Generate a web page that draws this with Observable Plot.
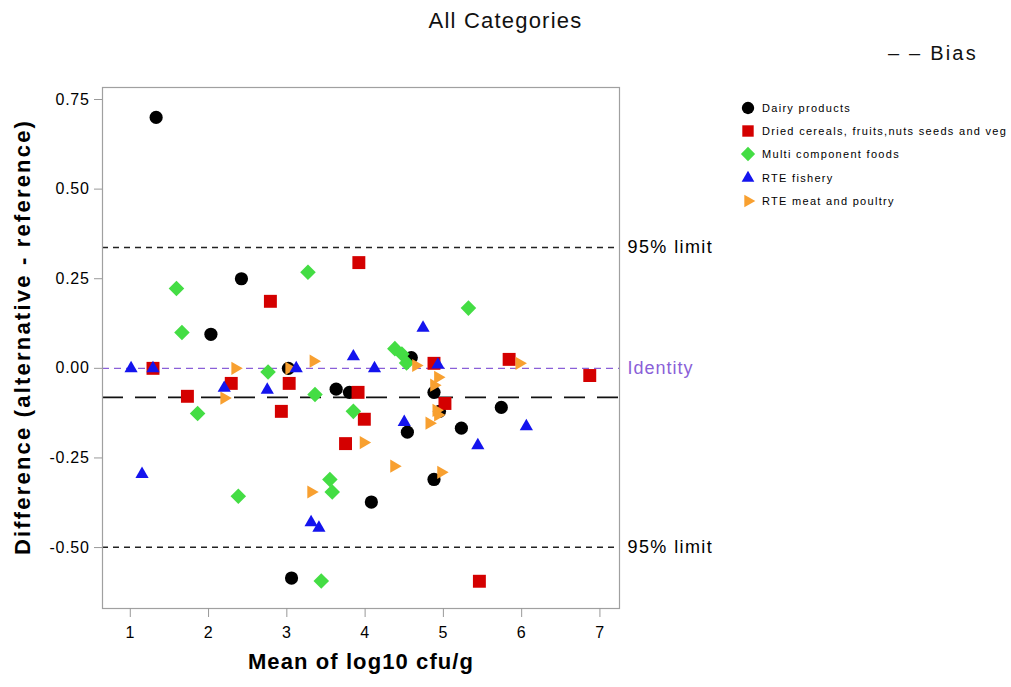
<!DOCTYPE html>
<html>
<head>
<meta charset="utf-8">
<script src="https://cdn.jsdelivr.net/npm/d3@7"></script>
<script src="https://cdn.jsdelivr.net/npm/@observablehq/plot@0.6"></script>
<style>
  body { margin: 0; background: #fff; font-family: "Liberation Sans", Arial, sans-serif; }
  #wrap { position: relative; width: 1011px; height: 687px; overflow: hidden; background: #fff; }
  #title { position: absolute; left: 0; top: 8px; width: 1011px; text-align: center; font-size: 22px; letter-spacing: 1.2px; color: #111; }
  #bias { position: absolute; left: 888px; top: 42px; font-size: 20px; letter-spacing: 2.2px; color: #111; white-space: nowrap; }
  #legend { position: absolute; left: 740px; top: 96px; font-size: 11px; color: #000; letter-spacing: 1.3px; }
  .row { display: flex; align-items: center; height: 23.3px; white-space: nowrap; }
  .row svg { width: 16px; height: 16px; margin-right: 6px; flex: none; }
</style>
</head>
<body>
<div id="wrap">
  <div id="title">All Categories</div>
  <div id="bias">– – Bias</div>
  <div id="legend"></div>
</div>
<script>
// Bland–Altman style comparison: difference (alternative - reference) against mean log10 count
const categories = [
  "Dairy products",
  "Dried cereals, fruits,nuts seeds and veg",
  "Multi component foods",
  "RTE fishery",
  "RTE meat and poultry"
];
const colors = ["#000000", "#d40000", "#44dd44", "#1414ee", "#f8a030"];

const dairyMean = [1.33, 2.03, 2.42, 3.02, 3.06, 3.63, 3.80, 4.08, 4.54, 4.59, 4.88, 4.95, 4.88, 5.23, 5.74];
const dairyDiff = [0.70, 0.095, 0.25, 0.0, -0.585, -0.058, -0.067, -0.373, -0.178, 0.03, -0.067, -0.12, -0.31, -0.167, -0.109];

const driedMean = [1.29, 1.73, 2.29, 2.79, 2.93, 3.03, 3.75, 3.91, 3.92, 3.99, 4.88, 5.02, 5.46, 5.84, 6.87];
const driedDiff = [0.0, -0.078, -0.042, 0.187, -0.12, -0.042, -0.21, -0.067, 0.295, -0.142, 0.014, -0.098, -0.594, 0.025, -0.02];

const multiMean = [1.59, 1.66, 1.86, 2.38, 2.76, 3.27, 3.36, 3.44, 3.55, 3.58, 3.85, 4.38, 4.47, 4.53, 5.32];
const multiDiff = [0.223, 0.10, -0.126, -0.357, -0.01, 0.268, -0.073, -0.593, -0.31, -0.345, -0.12, 0.055, 0.04, 0.015, 0.168];

const fisheryMean = [1.01, 1.15, 1.29, 2.20, 2.75, 3.12, 3.31, 3.41, 3.85, 4.12, 4.50, 4.74, 4.93, 5.44, 6.06];
const fisheryDiff = [0.0, -0.295, 0.0, -0.055, -0.06, 0.0, -0.43, -0.445, 0.033, 0.0, -0.15, 0.113, 0.01, -0.215, -0.162];

const meatMean = [2.20, 2.34, 3.03, 3.34, 3.31, 3.98, 4.37, 4.65, 4.82, 4.88, 4.91, 4.93, 4.93, 4.97, 5.97];
const meatDiff = [-0.083, 0.0, 0.0, 0.02, -0.345, -0.207, -0.273, 0.008, -0.153, -0.047, -0.117, -0.025, -0.13, -0.29, 0.014];

// Reference lines
const bias = -0.081;
const limits = [0.337, -0.499];
const identity = 0;

const xTicks = [1, 2, 3, 4, 5, 6, 7];
const yTicks = [-0.5, -0.25, 0, 0.25, 0.5, 0.75];

const xLabel = "Mean of log10 cfu/g";
const yLabel = "Difference (alternative - reference)";

// Right-pointing triangle for the meat series
const triangleRight = {
  draw(context, size) {
    const y = -Math.sqrt(size / (Math.sqrt(3) * 3));
    context.moveTo(-y * 2, 0);
    context.lineTo(y, -Math.sqrt(3) * y);
    context.lineTo(y, Math.sqrt(3) * y);
    context.closePath();
  }
};

const series = [
  {name: categories[0], mean: dairyMean, diff: dairyDiff, symbol: d3.symbolCircle, r: 6.6},
  {name: categories[1], mean: driedMean, diff: driedDiff, symbol: d3.symbolSquare, r: 7.3},
  {name: categories[2], mean: multiMean, diff: multiDiff, symbol: d3.symbolDiamond2, r: 7.0},
  {name: categories[4], mean: meatMean, diff: meatDiff, symbol: triangleRight, r: 4.9},
  {name: categories[3], mean: fisheryMean, diff: fisheryDiff, symbol: d3.symbolTriangle, r: 4.9}
];

const colorOf = name => colors[categories.indexOf(name)];

const marks = [
  Plot.ruleY(limits, {stroke: "#222", strokeWidth: 1.6, strokeDasharray: "6,5"}),
  Plot.ruleY([identity], {stroke: "#8a5fd8", strokeWidth: 1.3, strokeDasharray: "7,5"}),
  Plot.ruleY([bias], {stroke: "#111", strokeWidth: 1.6, strokeDasharray: "21,12"}),
  Plot.text(limits, {y: d => d, frameAnchor: "right", dx: 8, textAnchor: "start", text: () => "95% limit", fill: "#000", fontSize: 18}),
  Plot.text([identity], {y: d => d, frameAnchor: "right", dx: 8, textAnchor: "start", text: () => "Identity", fill: "#8a5fd8", fontSize: 18}),
  ...series.map(s => Plot.dot(
    s.mean.map((m, i) => ({mean: m, diff: s.diff[i]})),
    {x: "mean", y: "diff", symbol: s.symbol, r: s.r, fill: colorOf(s.name), stroke: "none"}
  )),
  Plot.frame({stroke: "#a0a0a0", strokeWidth: 1.2}),
  Plot.axisY({ticks: yTicks, tickSize: 8, tickPadding: 5, tickFormat: d => d.toFixed(2), stroke: "#999", fill: "#000", label: null}),
  Plot.axisX({ticks: xTicks, tickSize: 9, tickPadding: 9, tickFormat: d => String(d), stroke: "#999", fill: "#000", label: null}),
  Plot.text([yLabel], {frameAnchor: "left", textAnchor: "middle", dx: -80, dy: -11, rotate: -90, text: d => d, fontWeight: "bold", fontSize: 22, fill: "#000"}),
  Plot.text([xLabel], {frameAnchor: "bottom", textAnchor: "middle", dy: 60, text: d => d, fontWeight: "bold", fontSize: 22, fill: "#000"})
];

const chart = Plot.plot({
  width: 1011,
  height: 687,
  marginLeft: 102,
  marginRight: 392,
  marginTop: 87,
  marginBottom: 79,
  x: {domain: [0.645, 7.25]},
  y: {domain: [-0.67, 0.7835]},
  style: {fontFamily: "'Liberation Sans', Arial, sans-serif", fontSize: "16px", letterSpacing: "0.7px", background: "transparent", overflow: "visible"},
  marks
});
chart.style.position = "absolute";
chart.style.left = "0";
chart.style.top = "0";
document.getElementById("wrap").prepend(chart);

// Wider tracking for the axis titles and reference-line labels
const spacing = {[yLabel]: "2.2px", [xLabel]: "1.1px", "95% limit": "1.4px", "Identity": "1px"};
d3.select(chart).selectAll("text").each(function () {
  const s = spacing[this.textContent];
  if (s) this.style.letterSpacing = s;
});

// Legend with the same symbols and colours
const legend = document.getElementById("legend");
const legendSymbols = [d3.symbolCircle, d3.symbolSquare, d3.symbolDiamond2, d3.symbolTriangle, triangleRight];
const legendSizes = [120, 130, 130, 70, 70];
categories.forEach((name, i) => {
  const row = document.createElement("div");
  row.className = "row";
  const path = d3.symbol(legendSymbols[i], legendSizes[i])();
  row.innerHTML = `<svg viewBox="-8 -8 16 16"><path d="${path}" fill="${colors[i]}"></path></svg><span>${name}</span>`;
  legend.appendChild(row);
});
</script>
</body>
</html>
